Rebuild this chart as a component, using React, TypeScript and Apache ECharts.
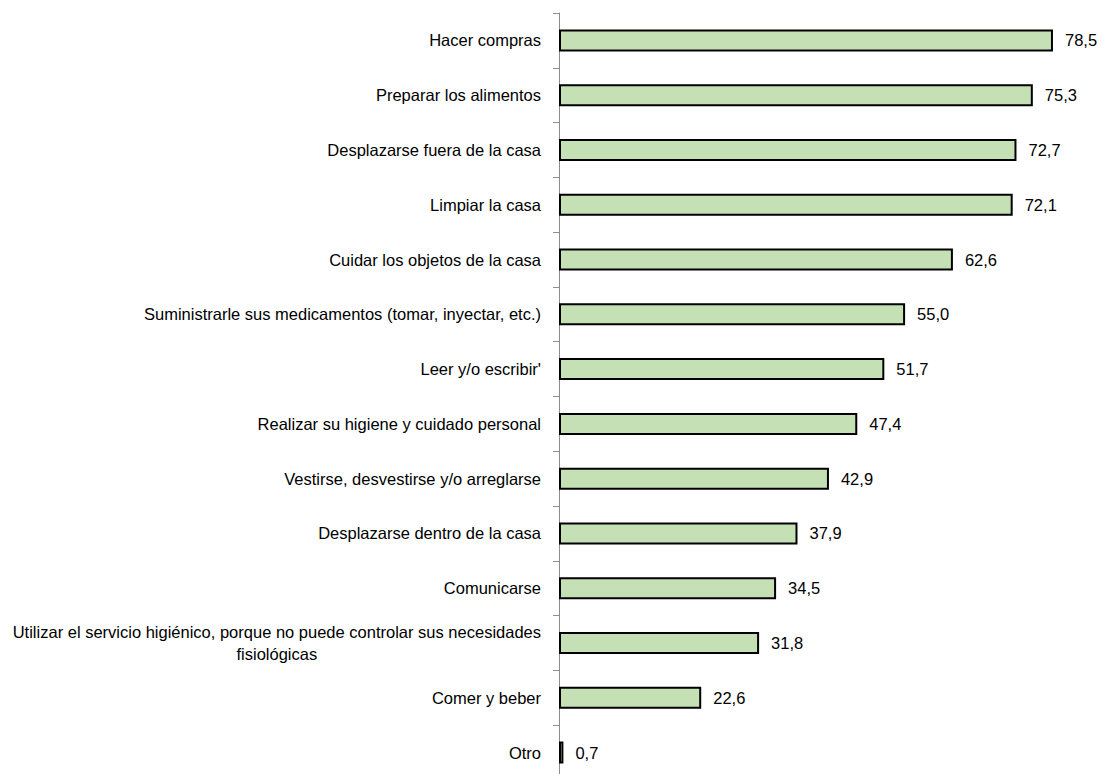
import React, { useEffect, useRef } from "react";
import * as echarts from "echarts";

const categories = [
  "Hacer compras",
  "Preparar los alimentos",
  "Desplazarse fuera de la casa",
  "Limpiar la casa",
  "Cuidar los objetos de la casa",
  "Suministrarle sus medicamentos (tomar, inyectar, etc.)",
  "Leer y/o escribir'",
  "Realizar su higiene y cuidado personal",
  "Vestirse, desvestirse y/o arreglarse",
  "Desplazarse dentro de la casa",
  "Comunicarse",
  "Utilizar el servicio higiénico, porque no puede controlar sus necesidades\nfisiológicas",
  "Comer y beber",
  "Otro",
];

const values = [78.5, 75.3, 72.7, 72.1, 62.6, 55.0, 51.7, 47.4, 42.9, 37.9, 34.5, 31.8, 22.6, 0.7];

const FONT = "Liberation Sans, Arial, sans-serif";

export default function App() {
  const ref = useRef<HTMLDivElement>(null);
  useEffect(() => {
    if (!ref.current) return;
    const chart = echarts.init(ref.current, undefined, { renderer: "svg" });
    chart.setOption({
      animation: false,
      grid: { left: 559, right: 41.6, top: 13, height: 767, containLabel: false },
      xAxis: {
        type: "value",
        min: 0,
        max: 80,
        show: false,
      },
      yAxis: {
        type: "category",
        inverse: true,
        data: categories,
        axisLine: { show: true, lineStyle: { color: "#8c8c8c", width: 1 } },
        axisTick: { show: true, length: 6, inside: false, lineStyle: { color: "#8c8c8c" } },
        axisLabel: {
          margin: 18,
          fontFamily: FONT,
          fontSize: 16.5,
          color: "#000",
          formatter: (v: string) =>
            v
              .split("\n")
              .map((s) => "{c|" + s + "}")
              .join("\n"),
          rich: {
            c: {
              align: "center",
              fontFamily: FONT,
              fontSize: 16.5,
              color: "#000",
              lineHeight: 22,
            },
          },
        },
        splitLine: { show: false },
      },
      series: [
        {
          type: "bar",
          data: values,
          barWidth: 22,
          itemStyle: { color: "#c5e0b4", borderColor: "#000", borderWidth: 2 },
          label: {
            show: true,
            position: "right",
            distance: 12,
            fontFamily: FONT,
            fontSize: 16.5,
            color: "#000",
            formatter: (p: any) => Number(p.value).toFixed(1).replace(".", ","),
          },
        },
      ],
    });
    return () => chart.dispose();
  }, []);
  return (
    <div
      ref={ref}
      style={{ position: "absolute", left: 0, top: 0, width: 1104, height: 781, background: "#fff" }}
    />
  );
}
